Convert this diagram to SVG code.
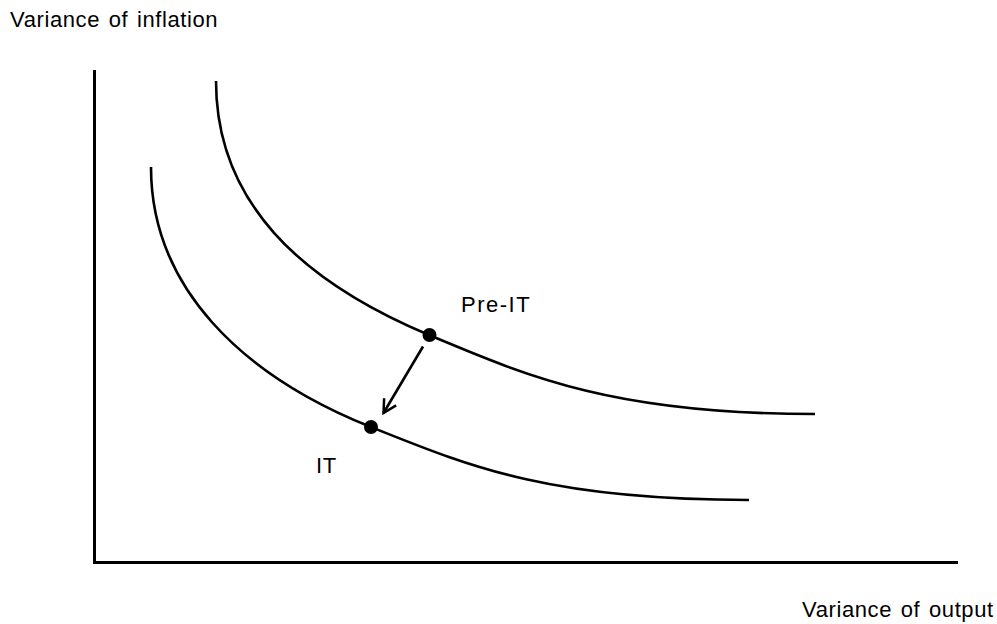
<svg xmlns="http://www.w3.org/2000/svg" width="997" height="624" viewBox="0 0 997 624">
<style>
.t{font-family:"Liberation Sans",Arial,sans-serif;font-size:22px;letter-spacing:0.6px;word-spacing:2px;fill:#000}
.c{fill:none;stroke:#000;stroke-width:2.6}
.ax{fill:none;stroke:#000;stroke-width:3}
</style>
<defs>
<marker id="ah" markerWidth="18" markerHeight="18" refX="14" refY="8" orient="auto" markerUnits="userSpaceOnUse">
<path d="M1,1 L14,8 L1,15" fill="none" stroke="#000" stroke-width="2.5"/>
</marker>
</defs>
<rect width="997" height="624" fill="#fff"/>
<g id="axes">
<path class="ax" d="M94.5,70 L94.5,562.5 L958,562.5"/>
</g>
<g id="curve-pre-it">
<path class="c" d="M216,81 C216,201 299,280.4 429,335 C529,377 615,414 815,414"/>
</g>
<g id="curve-it">
<path class="c" d="M151,167 C151,287 241,375 371,427 C471,467 549,500 749,500"/>
</g>
<g id="node-pre-it">
<circle cx="429.5" cy="335" r="7" fill="#000"/>
<text class="t" x="461" y="312" style="letter-spacing:1.5px">Pre-IT</text>
</g>
<g id="node-it">
<circle cx="371" cy="427" r="7" fill="#000"/>
<text class="t" x="316" y="473">IT</text>
</g>
<g id="connectors">
<line x1="423" y1="346.5" x2="383.5" y2="413" stroke="#000" stroke-width="2.6" marker-end="url(#ah)"/>
</g>
<text class="t" x="10" y="27">Variance of inflation</text>
<text class="t" x="802" y="617">Variance of output</text>
</svg>
